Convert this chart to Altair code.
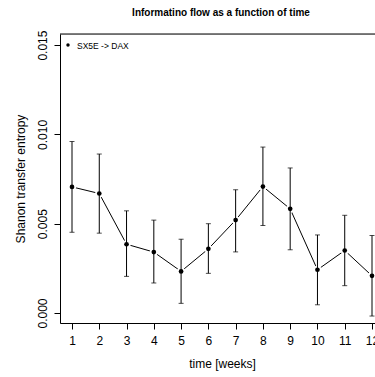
import altair as alt
import pandas as pd

weeks = [1, 2, 3, 4, 5, 6, 7, 8, 9, 10, 11, 12]
te = [0.00706, 0.00669, 0.00385, 0.00341, 0.00233, 0.00359, 0.00520, 0.00708, 0.00583, 0.00242, 0.00350, 0.00208]
lo = [0.00452, 0.00447, 0.00205, 0.00168, 0.00054, 0.00222, 0.00342, 0.00490, 0.00354, 0.00046, 0.00153, -0.00017]
hi = [0.00960, 0.00890, 0.00572, 0.00520, 0.00413, 0.00500, 0.00690, 0.00929, 0.00812, 0.00437, 0.00547, 0.00434]
y_ticks = [0.0, 0.005, 0.010, 0.015]
legend_label = "SX5E -> DAX"

df = pd.DataFrame({"week": weeks, "te": te, "lo": lo, "hi": hi})

FONT = "Liberation Sans"
W, H = 315, 289

xs = alt.Scale(domain=[0.56, 12.11], nice=False, zero=False)
ys = alt.Scale(domain=[-0.00056, 0.01562], nice=False, zero=False)

x_axis = alt.Axis(
    values=weeks, tickCount=12, grid=False, domain=True, domainColor="black", domainWidth=1,
    tickColor="black", tickSize=6, tickWidth=1, labelFont=FONT, labelFontSize=12,
    labelColor="black", labelBaseline="alphabetic", labelPadding=15,
    labelOverlap=False, labelFlush=False, labelBound=False,
    title="time [weeks]", titleFont=FONT, titleFontSize=12, titleFontWeight="normal",
    titleColor="black", titleX=162, titleY=40, titleBaseline="middle", titleAlign="center",
)
y_axis = alt.Axis(
    values=y_ticks, format=".3f", grid=False, domain=True, domainColor="black", domainWidth=1,
    tickColor="black", tickSize=6, tickWidth=1, labelFont=FONT, labelFontSize=12,
    labelColor="black", labelAngle=270, labelAlign="center", labelBaseline="alphabetic",
    labelPadding=8, labelOverlap=False, labelFlush=False, labelBound=False,
    title="Shanon transfer entropy", titleFont=FONT, titleFontSize=12, titleFontWeight="normal",
    titleColor="black", titleAngle=270, titleX=-40, titleY=H / 2,
    titleAlign="center", titleBaseline="middle",
)

X = alt.X("week:Q", scale=xs, axis=x_axis)

base = alt.Chart(df)

line = base.mark_line(color="black", strokeWidth=1).encode(
    x=X, y=alt.Y("te:Q", scale=ys, axis=y_axis)
)
halo = base.mark_point(filled=True, color="white", size=70, opacity=1).encode(
    x=X, y=alt.Y("te:Q", scale=ys, axis=y_axis)
)
bars = base.mark_rule(color="black", strokeWidth=1).encode(
    x=X, y=alt.Y("lo:Q", scale=ys, axis=y_axis), y2="hi:Q",
)
caps_hi = base.mark_tick(color="black", orient="horizontal", size=5, thickness=1).encode(
    x=X, y=alt.Y("hi:Q", scale=ys, axis=y_axis)
)
caps_lo = base.mark_tick(color="black", orient="horizontal", size=5, thickness=1).encode(
    x=X, y=alt.Y("lo:Q", scale=ys, axis=y_axis)
)
pts = base.mark_point(filled=True, color="black", size=22, opacity=1).encode(
    x=X, y=alt.Y("te:Q", scale=ys, axis=y_axis)
)

one = pd.DataFrame({"label": [legend_label]})
top_border = alt.Chart(one).mark_rule(color="black", strokeWidth=1).encode(
    x=alt.value(0), x2=alt.value(W + 20), y=alt.value(0)
)
leg_pt = alt.Chart(one).mark_point(filled=True, color="black", size=12, opacity=1).encode(
    x=alt.value(8), y=alt.value(11)
)
leg_txt = alt.Chart(one).mark_text(
    font=FONT, fontSize=8.5, align="left", baseline="middle", color="black"
).encode(x=alt.value(17), y=alt.value(11.5), text="label:N")

chart = alt.layer(line, halo, bars, caps_hi, caps_lo, pts, top_border, leg_pt, leg_txt).properties(
    width=W, height=H,
    title=alt.TitleParams(
        "Informatino flow as a function of time", font=FONT, fontSize=10, fontWeight="bold",
        color="black", anchor="middle", dx=3.5, offset=12,
    ),
    autosize=alt.AutoSizeParams(type="none"),
    padding={"left": 60, "top": 34, "right": 0, "bottom": 54},
).configure_view(stroke=None).configure(background="white")

chart.save("out.html", embed_options={"renderer": "svg", "actions": False})
